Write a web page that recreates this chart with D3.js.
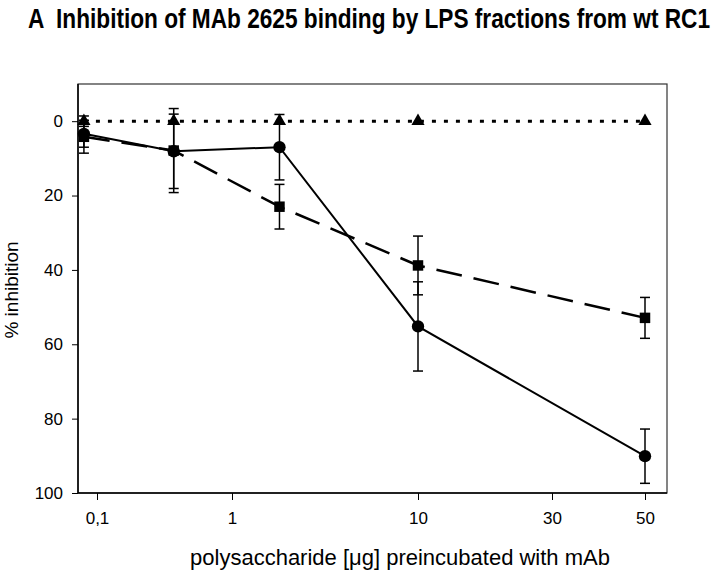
<html>
<head>
<script src="https://d3js.org/d3.v7.min.js"></script>
<style>
  body { margin: 0; background: #fff; }
  text { font-family: "Liberation Sans", Arial, sans-serif; fill: #000; }
</style>
</head>
<body>
<svg id="chart" width="720" height="572"></svg>
<script>
// values
var doses = [0.08, 0.37, 1.8, 10, 50];
var circleVals = [3.4, 8.1, 7.0, 55.2, 90.1];
var circleErr = [3.6, 10, 8.8, 12.0, 7.3];
var squareVals = [4.2, 7.9, 23.0, 38.8, 52.9];
var squareErr = [4.4, 11.3, 6.0, 7.9, 5.5];
var triangleVals = [0, 0, 0, 0, 0];
var triangleErr = [1.4, 0, 0, 0, 0];
var xTicks = [0.1, 1, 10, 30, 50];
var xTickLabels = ["0,1", "1", "10", "30", "50"];
var yTicks = [0, 20, 40, 60, 80, 100];

var svg = d3.select("#chart");
var plotLeft = 78, plotRight = 667, plotTop = 84, plotBottom = 493;

// the axis is not evenly spaced, so use a piecewise log scale
var x = d3.scaleLog()
  .domain(xTicks)
  .range([97, 232, 418, 552, 645]);

var y = d3.scaleLinear()
  .domain([-10, 100])
  .range([plotTop, plotBottom]);

// title (narrow bold face: smaller font stretched vertically)
svg.append("text")
  .attr("transform", "translate(28,28) scale(1,1.27)")
  .attr("textLength", 682)
  .attr("lengthAdjust", "spacingAndGlyphs")
  .style("font-size", "22px")
  .style("font-weight", "bold")
  .style("white-space", "pre")
  .text("A  Inhibition of MAb 2625 binding by LPS fractions from wt RC1");

// frame
svg.append("rect")
  .attr("x", plotLeft).attr("y", plotTop)
  .attr("width", plotRight - plotLeft).attr("height", plotBottom - plotTop)
  .attr("fill", "none")
  .attr("stroke", "#333")
  .attr("stroke-width", 1.2);

// axes
var xAxis = svg.append("g")
  .attr("transform", "translate(0," + plotBottom + ")")
  .call(d3.axisBottom(x)
    .tickValues(xTicks)
    .tickFormat(function(d, i) { return xTickLabels[i]; })
    .tickSize(7)
    .tickPadding(12));
xAxis.select(".domain").attr("d", "M" + plotLeft + ",0H" + plotRight).attr("stroke-width", 1.5);
xAxis.selectAll("text").style("font-size", "17px");

var yAxis = svg.append("g")
  .attr("transform", "translate(" + plotLeft + ",0)")
  .call(d3.axisLeft(y)
    .tickValues(yTicks)
    .tickSize(6)
    .tickPadding(9));
yAxis.select(".domain").attr("d", "M0," + plotTop + "V" + plotBottom).attr("stroke-width", 1.5);
yAxis.selectAll("text").style("font-size", "17px");

// axis titles
svg.append("text")
  .attr("x", 400).attr("y", 565)
  .attr("text-anchor", "middle")
  .style("font-size", "22px")
  .text("polysaccharide [\u03bcg] preincubated with mAb");

svg.append("text")
  .attr("transform", "translate(18,290) rotate(-90)")
  .attr("text-anchor", "middle")
  .style("font-size", "19px")
  .text("% inhibition");

function drawSeries(vals, errs, dash, width, marker) {
  var pts = doses.map(function(d, i) { return {x: d, y: vals[i], e: errs[i]}; });

  var line = d3.line()
    .x(function(d) { return x(d.x); })
    .y(function(d) { return y(d.y); });

  svg.append("path")
    .datum(pts)
    .attr("d", line)
    .attr("fill", "none")
    .attr("stroke", "#000")
    .attr("stroke-width", width)
    .attr("stroke-dasharray", dash);

  // error bars
  var eb = svg.append("g").attr("stroke", "#000").attr("stroke-width", 1.5);
  pts.filter(function(d) { return d.e > 0; }).forEach(function(d) {
    var cx = x(d.x);
    eb.append("line").attr("x1", cx).attr("x2", cx)
      .attr("y1", y(d.y - d.e)).attr("y2", y(d.y + d.e));
    [d.y - d.e, d.y + d.e].forEach(function(v) {
      eb.append("line").attr("x1", cx - 5).attr("x2", cx + 5)
        .attr("y1", y(v)).attr("y2", y(v));
    });
  });

  svg.append("g").selectAll("path")
    .data(pts)
    .enter()
    .append("path")
    .attr("transform", function(d) { return "translate(" + x(d.x) + "," + y(d.y) + ")"; })
    .attr("d", d3.symbol().type(marker.type).size(marker.size))
    .attr("fill", "#000");
}

drawSeries(triangleVals, triangleErr, "4,8", 3, {type: d3.symbolTriangle, size: 75});
drawSeries(squareVals, squareErr, "26,12", 2.5, {type: d3.symbolSquare, size: 110});
drawSeries(circleVals, circleErr, null, 2, {type: d3.symbolCircle, size: 120});
</script>
</body>
</html>
